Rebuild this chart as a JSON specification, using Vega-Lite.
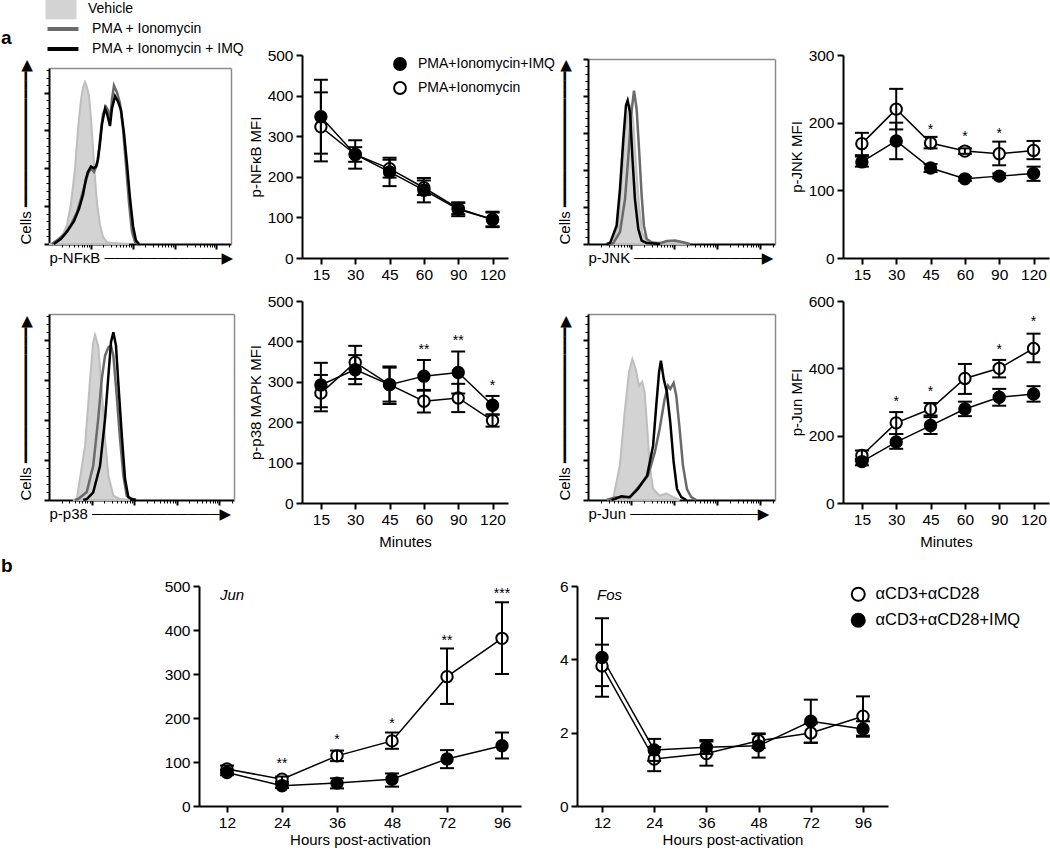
{
  "$schema": "https://vega.github.io/schema/vega-lite/v6.json",
  "padding": {"left": 1, "top": 0, "right": 0, "bottom": 0},
  "background": "white",
  "config": {
    "font": "Liberation Sans",
    "view": {"stroke": null},
    "axis": {"grid": false, "domainColor": "#000", "tickColor": "#000", "labelColor": "#000", "titleColor": "#000", "titleFontWeight": "normal", "labelFont": "Liberation Sans", "titleFont": "Liberation Sans"},
    "title": {"color": "#000"},
    "legend": {"padding": 0, "labelColor": "#000", "labelFont": "Liberation Sans"}
  },
  "datasets": {
    "h1": [
      {"c": "Vehicle", "x": 0, "y": 0}, {"c": "Vehicle", "x": 11, "y": 0.2}, {"c": "Vehicle", "x": 44, "y": 1}, {"c": "Vehicle", "x": 71, "y": 4}, {"c": "Vehicle", "x": 99, "y": 11}, {"c": "Vehicle", "x": 121, "y": 23}, {"c": "Vehicle", "x": 143, "y": 43}, {"c": "Vehicle", "x": 159, "y": 65}, {"c": "Vehicle", "x": 176, "y": 82}, {"c": "Vehicle", "x": 187, "y": 89}, {"c": "Vehicle", "x": 198, "y": 92}, {"c": "Vehicle", "x": 209, "y": 89}, {"c": "Vehicle", "x": 220, "y": 84}, {"c": "Vehicle", "x": 231, "y": 71}, {"c": "Vehicle", "x": 242, "y": 54}, {"c": "Vehicle", "x": 253, "y": 37}, {"c": "Vehicle", "x": 264, "y": 23}, {"c": "Vehicle", "x": 280, "y": 11}, {"c": "Vehicle", "x": 297, "y": 4}, {"c": "Vehicle", "x": 319, "y": 1}, {"c": "Vehicle", "x": 357, "y": 0.5}, {"c": "Vehicle", "x": 440, "y": 0},
      {"c": "PMA + Ionomycin", "x": 16, "y": 0}, {"c": "PMA + Ionomycin", "x": 55, "y": 3}, {"c": "PMA + Ionomycin", "x": 88, "y": 6}, {"c": "PMA + Ionomycin", "x": 121, "y": 11}, {"c": "PMA + Ionomycin", "x": 154, "y": 18}, {"c": "PMA + Ionomycin", "x": 176, "y": 26}, {"c": "PMA + Ionomycin", "x": 198, "y": 34}, {"c": "PMA + Ionomycin", "x": 214, "y": 40}, {"c": "PMA + Ionomycin", "x": 231, "y": 43}, {"c": "PMA + Ionomycin", "x": 247, "y": 41}, {"c": "PMA + Ionomycin", "x": 264, "y": 45}, {"c": "PMA + Ionomycin", "x": 275, "y": 54}, {"c": "PMA + Ionomycin", "x": 286, "y": 65}, {"c": "PMA + Ionomycin", "x": 297, "y": 74}, {"c": "PMA + Ionomycin", "x": 313, "y": 78}, {"c": "PMA + Ionomycin", "x": 324, "y": 76}, {"c": "PMA + Ionomycin", "x": 335, "y": 70}, {"c": "PMA + Ionomycin", "x": 346, "y": 82}, {"c": "PMA + Ionomycin", "x": 357, "y": 90}, {"c": "PMA + Ionomycin", "x": 374, "y": 86}, {"c": "PMA + Ionomycin", "x": 390, "y": 80}, {"c": "PMA + Ionomycin", "x": 407, "y": 65}, {"c": "PMA + Ionomycin", "x": 423, "y": 45}, {"c": "PMA + Ionomycin", "x": 440, "y": 23}, {"c": "PMA + Ionomycin", "x": 456, "y": 7}, {"c": "PMA + Ionomycin", "x": 473, "y": 1}, {"c": "PMA + Ionomycin", "x": 489, "y": 0},
      {"c": "PMA + Ionomycin + IMQ", "x": 27, "y": 0}, {"c": "PMA + Ionomycin + IMQ", "x": 66, "y": 3}, {"c": "PMA + Ionomycin + IMQ", "x": 99, "y": 7}, {"c": "PMA + Ionomycin + IMQ", "x": 137, "y": 13}, {"c": "PMA + Ionomycin + IMQ", "x": 165, "y": 20}, {"c": "PMA + Ionomycin + IMQ", "x": 187, "y": 28}, {"c": "PMA + Ionomycin + IMQ", "x": 203, "y": 37}, {"c": "PMA + Ionomycin + IMQ", "x": 214, "y": 41}, {"c": "PMA + Ionomycin + IMQ", "x": 231, "y": 44}, {"c": "PMA + Ionomycin + IMQ", "x": 247, "y": 43}, {"c": "PMA + Ionomycin + IMQ", "x": 258, "y": 44}, {"c": "PMA + Ionomycin + IMQ", "x": 269, "y": 48}, {"c": "PMA + Ionomycin + IMQ", "x": 280, "y": 57}, {"c": "PMA + Ionomycin + IMQ", "x": 291, "y": 68}, {"c": "PMA + Ionomycin + IMQ", "x": 308, "y": 77}, {"c": "PMA + Ionomycin + IMQ", "x": 319, "y": 74}, {"c": "PMA + Ionomycin + IMQ", "x": 335, "y": 67}, {"c": "PMA + Ionomycin + IMQ", "x": 346, "y": 77}, {"c": "PMA + Ionomycin + IMQ", "x": 363, "y": 84}, {"c": "PMA + Ionomycin + IMQ", "x": 379, "y": 81}, {"c": "PMA + Ionomycin + IMQ", "x": 396, "y": 76}, {"c": "PMA + Ionomycin + IMQ", "x": 412, "y": 63}, {"c": "PMA + Ionomycin + IMQ", "x": 429, "y": 45}, {"c": "PMA + Ionomycin + IMQ", "x": 445, "y": 26}, {"c": "PMA + Ionomycin + IMQ", "x": 462, "y": 10}, {"c": "PMA + Ionomycin + IMQ", "x": 478, "y": 2}, {"c": "PMA + Ionomycin + IMQ", "x": 495, "y": 0}
    ],
    "h2": [
      {"c": "Vehicle", "x": 110, "y": 0}, {"c": "Vehicle", "x": 127, "y": 0.5}, {"c": "Vehicle", "x": 162, "y": 9.9}, {"c": "Vehicle", "x": 180, "y": 35.1}, {"c": "Vehicle", "x": 198, "y": 60.4}, {"c": "Vehicle", "x": 216, "y": 72}, {"c": "Vehicle", "x": 230, "y": 74.8}, {"c": "Vehicle", "x": 242, "y": 65.8}, {"c": "Vehicle", "x": 257, "y": 42.3}, {"c": "Vehicle", "x": 273, "y": 20.7}, {"c": "Vehicle", "x": 290, "y": 6.3}, {"c": "Vehicle", "x": 314, "y": 1.2}, {"c": "Vehicle", "x": 358, "y": 0.5}, {"c": "Vehicle", "x": 412, "y": 1.4}, {"c": "Vehicle", "x": 455, "y": 1.6}, {"c": "Vehicle", "x": 492, "y": 0.5}, {"c": "Vehicle", "x": 545, "y": 0},
      {"c": "PMA + Ionomycin", "x": 118, "y": 0}, {"c": "PMA + Ionomycin", "x": 135, "y": 0.5}, {"c": "PMA + Ionomycin", "x": 171, "y": 6.5}, {"c": "PMA + Ionomycin", "x": 198, "y": 24.3}, {"c": "PMA + Ionomycin", "x": 216, "y": 47.7}, {"c": "PMA + Ionomycin", "x": 230, "y": 69.3}, {"c": "PMA + Ionomycin", "x": 246, "y": 82.9}, {"c": "PMA + Ionomycin", "x": 260, "y": 73}, {"c": "PMA + Ionomycin", "x": 273, "y": 51.3}, {"c": "PMA + Ionomycin", "x": 287, "y": 26.1}, {"c": "PMA + Ionomycin", "x": 299, "y": 9.9}, {"c": "PMA + Ionomycin", "x": 314, "y": 2.7}, {"c": "PMA + Ionomycin", "x": 341, "y": 0.9}, {"c": "PMA + Ionomycin", "x": 385, "y": 0.3}, {"c": "PMA + Ionomycin", "x": 422, "y": 1.6}, {"c": "PMA + Ionomycin", "x": 465, "y": 1.9}, {"c": "PMA + Ionomycin", "x": 503, "y": 1.1}, {"c": "PMA + Ionomycin", "x": 545, "y": 0},
      {"c": "PMA + Ionomycin + IMQ", "x": 100, "y": 0}, {"c": "PMA + Ionomycin + IMQ", "x": 118, "y": 0.5}, {"c": "PMA + Ionomycin + IMQ", "x": 153, "y": 9.9}, {"c": "PMA + Ionomycin + IMQ", "x": 171, "y": 29.7}, {"c": "PMA + Ionomycin + IMQ", "x": 189, "y": 56.8}, {"c": "PMA + Ionomycin + IMQ", "x": 203, "y": 74.8}, {"c": "PMA + Ionomycin + IMQ", "x": 212, "y": 77.5}, {"c": "PMA + Ionomycin + IMQ", "x": 225, "y": 71.2}, {"c": "PMA + Ionomycin + IMQ", "x": 237, "y": 47.7}, {"c": "PMA + Ionomycin + IMQ", "x": 251, "y": 24.3}, {"c": "PMA + Ionomycin + IMQ", "x": 269, "y": 8.1}, {"c": "PMA + Ionomycin + IMQ", "x": 287, "y": 1.8}, {"c": "PMA + Ionomycin + IMQ", "x": 314, "y": 0.5}, {"c": "PMA + Ionomycin + IMQ", "x": 385, "y": 0}
    ],
    "h3": [
      {"c": "Vehicle", "x": 130, "y": 0}, {"c": "Vehicle", "x": 150, "y": 0.5}, {"c": "Vehicle", "x": 195, "y": 29.2}, {"c": "Vehicle", "x": 222, "y": 65}, {"c": "Vehicle", "x": 239, "y": 84.8}, {"c": "Vehicle", "x": 249, "y": 88.7}, {"c": "Vehicle", "x": 266, "y": 83}, {"c": "Vehicle", "x": 285, "y": 59.7}, {"c": "Vehicle", "x": 303, "y": 32.8}, {"c": "Vehicle", "x": 321, "y": 13.1}, {"c": "Vehicle", "x": 348, "y": 2.3}, {"c": "Vehicle", "x": 384, "y": 0.5}, {"c": "Vehicle", "x": 438, "y": 0},
      {"c": "PMA + Ionomycin", "x": 140, "y": 0}, {"c": "PMA + Ionomycin", "x": 158, "y": 0.5}, {"c": "PMA + Ionomycin", "x": 204, "y": 4.3}, {"c": "PMA + Ionomycin", "x": 239, "y": 18.4}, {"c": "PMA + Ionomycin", "x": 266, "y": 43.5}, {"c": "PMA + Ionomycin", "x": 285, "y": 65}, {"c": "PMA + Ionomycin", "x": 303, "y": 77.6}, {"c": "PMA + Ionomycin", "x": 321, "y": 82.1}, {"c": "PMA + Ionomycin", "x": 335, "y": 83}, {"c": "PMA + Ionomycin", "x": 348, "y": 77.6}, {"c": "PMA + Ionomycin", "x": 366, "y": 56.1}, {"c": "PMA + Ionomycin", "x": 384, "y": 32.8}, {"c": "PMA + Ionomycin", "x": 402, "y": 13.1}, {"c": "PMA + Ionomycin", "x": 420, "y": 2.3}, {"c": "PMA + Ionomycin", "x": 447, "y": 0.5}, {"c": "PMA + Ionomycin", "x": 470, "y": 0},
      {"c": "PMA + Ionomycin + IMQ", "x": 185, "y": 0}, {"c": "PMA + Ionomycin + IMQ", "x": 204, "y": 0.5}, {"c": "PMA + Ionomycin + IMQ", "x": 239, "y": 4.1}, {"c": "PMA + Ionomycin + IMQ", "x": 276, "y": 18.4}, {"c": "PMA + Ionomycin + IMQ", "x": 303, "y": 43.5}, {"c": "PMA + Ionomycin + IMQ", "x": 321, "y": 66.8}, {"c": "PMA + Ionomycin + IMQ", "x": 335, "y": 84.8}, {"c": "PMA + Ionomycin + IMQ", "x": 348, "y": 90.2}, {"c": "PMA + Ionomycin + IMQ", "x": 362, "y": 83}, {"c": "PMA + Ionomycin + IMQ", "x": 378, "y": 57.9}, {"c": "PMA + Ionomycin + IMQ", "x": 395, "y": 32.8}, {"c": "PMA + Ionomycin + IMQ", "x": 411, "y": 11.3}, {"c": "PMA + Ionomycin + IMQ", "x": 429, "y": 1.5}, {"c": "PMA + Ionomycin + IMQ", "x": 447, "y": 0.5}, {"c": "PMA + Ionomycin + IMQ", "x": 470, "y": 0}
    ],
    "h4": [
      {"c": "Vehicle", "x": 120, "y": 0}, {"c": "Vehicle", "x": 134, "y": 0.5}, {"c": "Vehicle", "x": 170, "y": 18.4}, {"c": "Vehicle", "x": 196, "y": 47.1}, {"c": "Vehicle", "x": 219, "y": 68.7}, {"c": "Vehicle", "x": 237, "y": 75.8}, {"c": "Vehicle", "x": 255, "y": 70.4}, {"c": "Vehicle", "x": 273, "y": 61.4}, {"c": "Vehicle", "x": 290, "y": 63.6}, {"c": "Vehicle", "x": 303, "y": 57.9}, {"c": "Vehicle", "x": 316, "y": 39.9}, {"c": "Vehicle", "x": 330, "y": 18.4}, {"c": "Vehicle", "x": 348, "y": 5.9}, {"c": "Vehicle", "x": 383, "y": 2.3}, {"c": "Vehicle", "x": 419, "y": 3.6}, {"c": "Vehicle", "x": 455, "y": 1.5}, {"c": "Vehicle", "x": 490, "y": 0},
      {"c": "PMA + Ionomycin", "x": 100, "y": 0}, {"c": "PMA + Ionomycin", "x": 116, "y": 0.5}, {"c": "PMA + Ionomycin", "x": 151, "y": 1.5}, {"c": "PMA + Ionomycin", "x": 223, "y": 1.5}, {"c": "PMA + Ionomycin", "x": 276, "y": 7.7}, {"c": "PMA + Ionomycin", "x": 321, "y": 13.1}, {"c": "PMA + Ionomycin", "x": 357, "y": 25.6}, {"c": "PMA + Ionomycin", "x": 383, "y": 38.2}, {"c": "PMA + Ionomycin", "x": 410, "y": 54.3}, {"c": "PMA + Ionomycin", "x": 428, "y": 61.4}, {"c": "PMA + Ionomycin", "x": 440, "y": 59.7}, {"c": "PMA + Ionomycin", "x": 458, "y": 62.9}, {"c": "PMA + Ionomycin", "x": 472, "y": 56.1}, {"c": "PMA + Ionomycin", "x": 490, "y": 38.2}, {"c": "PMA + Ionomycin", "x": 508, "y": 18.4}, {"c": "PMA + Ionomycin", "x": 529, "y": 5.9}, {"c": "PMA + Ionomycin", "x": 552, "y": 1.5}, {"c": "PMA + Ionomycin", "x": 579, "y": 0},
      {"c": "PMA + Ionomycin + IMQ", "x": 125, "y": 0}, {"c": "PMA + Ionomycin + IMQ", "x": 143, "y": 0.5}, {"c": "PMA + Ionomycin + IMQ", "x": 178, "y": 2}, {"c": "PMA + Ionomycin + IMQ", "x": 223, "y": 1.5}, {"c": "PMA + Ionomycin + IMQ", "x": 267, "y": 5.9}, {"c": "PMA + Ionomycin + IMQ", "x": 316, "y": 13.1}, {"c": "PMA + Ionomycin + IMQ", "x": 348, "y": 29.2}, {"c": "PMA + Ionomycin + IMQ", "x": 365, "y": 50.7}, {"c": "PMA + Ionomycin + IMQ", "x": 380, "y": 68.7}, {"c": "PMA + Ionomycin + IMQ", "x": 390, "y": 74.9}, {"c": "PMA + Ionomycin + IMQ", "x": 405, "y": 65}, {"c": "PMA + Ionomycin + IMQ", "x": 422, "y": 57.9}, {"c": "PMA + Ionomycin + IMQ", "x": 440, "y": 41.8}, {"c": "PMA + Ionomycin + IMQ", "x": 458, "y": 20.3}, {"c": "PMA + Ionomycin + IMQ", "x": 476, "y": 5.9}, {"c": "PMA + Ionomycin + IMQ", "x": 499, "y": 1.5}, {"c": "PMA + Ionomycin + IMQ", "x": 526, "y": 0}
    ],
    "nfkb": [
      {"t": "15", "g": "PMA+Ionomycin", "m": 323, "lo": 238, "hi": 408}, {"t": "30", "g": "PMA+Ionomycin", "m": 255, "lo": 237, "hi": 273}, {"t": "45", "g": "PMA+Ionomycin", "m": 220, "lo": 198, "hi": 242}, {"t": "60", "g": "PMA+Ionomycin", "m": 173, "lo": 155, "hi": 191}, {"t": "90", "g": "PMA+Ionomycin", "m": 122, "lo": 108, "hi": 136}, {"t": "120", "g": "PMA+Ionomycin", "m": 95, "lo": 78, "hi": 112},
      {"t": "15", "g": "PMA+Ionomycin+IMQ", "m": 348, "lo": 257, "hi": 439}, {"t": "30", "g": "PMA+Ionomycin+IMQ", "m": 255, "lo": 220, "hi": 290}, {"t": "45", "g": "PMA+Ionomycin+IMQ", "m": 212, "lo": 177, "hi": 247}, {"t": "60", "g": "PMA+Ionomycin+IMQ", "m": 167, "lo": 137, "hi": 197}, {"t": "90", "g": "PMA+Ionomycin+IMQ", "m": 120, "lo": 103, "hi": 137}, {"t": "120", "g": "PMA+Ionomycin+IMQ", "m": 95, "lo": 76, "hi": 114}
    ],
    "jnk": [
      {"t": "15", "g": "PMA+Ionomycin", "m": 169, "lo": 152, "hi": 185}, {"t": "30", "g": "PMA+Ionomycin", "m": 220, "lo": 190, "hi": 250}, {"t": "45", "g": "PMA+Ionomycin", "m": 170, "lo": 162, "hi": 179}, {"t": "60", "g": "PMA+Ionomycin", "m": 158, "lo": 154, "hi": 162}, {"t": "90", "g": "PMA+Ionomycin", "m": 154, "lo": 137, "hi": 172}, {"t": "120", "g": "PMA+Ionomycin", "m": 159, "lo": 146, "hi": 173},
      {"t": "15", "g": "PMA+Ionomycin+IMQ", "m": 142, "lo": 135, "hi": 150}, {"t": "30", "g": "PMA+Ionomycin+IMQ", "m": 173, "lo": 146, "hi": 200}, {"t": "45", "g": "PMA+Ionomycin+IMQ", "m": 133, "lo": 127, "hi": 139}, {"t": "60", "g": "PMA+Ionomycin+IMQ", "m": 117, "lo": 114, "hi": 120}, {"t": "90", "g": "PMA+Ionomycin+IMQ", "m": 121, "lo": 118, "hi": 125}, {"t": "120", "g": "PMA+Ionomycin+IMQ", "m": 125, "lo": 114, "hi": 135}
    ],
    "p38": [
      {"t": "15", "g": "PMA+Ionomycin", "m": 272, "lo": 227, "hi": 317}, {"t": "30", "g": "PMA+Ionomycin", "m": 348, "lo": 307, "hi": 389}, {"t": "45", "g": "PMA+Ionomycin", "m": 293, "lo": 245, "hi": 338}, {"t": "60", "g": "PMA+Ionomycin", "m": 252, "lo": 224, "hi": 280}, {"t": "90", "g": "PMA+Ionomycin", "m": 260, "lo": 225, "hi": 295}, {"t": "120", "g": "PMA+Ionomycin", "m": 204, "lo": 189, "hi": 219},
      {"t": "15", "g": "PMA+Ionomycin+IMQ", "m": 292, "lo": 237, "hi": 347}, {"t": "30", "g": "PMA+Ionomycin+IMQ", "m": 330, "lo": 294, "hi": 366}, {"t": "45", "g": "PMA+Ionomycin+IMQ", "m": 293, "lo": 251, "hi": 335}, {"t": "60", "g": "PMA+Ionomycin+IMQ", "m": 314, "lo": 278, "hi": 354}, {"t": "90", "g": "PMA+Ionomycin+IMQ", "m": 323, "lo": 271, "hi": 375}, {"t": "120", "g": "PMA+Ionomycin+IMQ", "m": 242, "lo": 219, "hi": 265}
    ],
    "pjun": [
      {"t": "15", "g": "PMA+Ionomycin", "m": 141, "lo": 126, "hi": 156}, {"t": "30", "g": "PMA+Ionomycin", "m": 238, "lo": 205, "hi": 270}, {"t": "45", "g": "PMA+Ionomycin", "m": 279, "lo": 260, "hi": 297}, {"t": "60", "g": "PMA+Ionomycin", "m": 370, "lo": 324, "hi": 413}, {"t": "90", "g": "PMA+Ionomycin", "m": 400, "lo": 373, "hi": 425}, {"t": "120", "g": "PMA+Ionomycin", "m": 459, "lo": 418, "hi": 503},
      {"t": "15", "g": "PMA+Ionomycin+IMQ", "m": 123, "lo": 112, "hi": 131}, {"t": "30", "g": "PMA+Ionomycin+IMQ", "m": 181, "lo": 161, "hi": 205}, {"t": "45", "g": "PMA+Ionomycin+IMQ", "m": 230, "lo": 205, "hi": 255}, {"t": "60", "g": "PMA+Ionomycin+IMQ", "m": 279, "lo": 258, "hi": 301}, {"t": "90", "g": "PMA+Ionomycin+IMQ", "m": 314, "lo": 289, "hi": 339}, {"t": "120", "g": "PMA+Ionomycin+IMQ", "m": 324, "lo": 301, "hi": 347}
    ],
    "jun": [
      {"t": "12", "g": "αCD3+αCD28", "m": 84, "lo": 76, "hi": 92}, {"t": "24", "g": "αCD3+αCD28", "m": 61, "lo": 55, "hi": 67}, {"t": "36", "g": "αCD3+αCD28", "m": 114, "lo": 102, "hi": 126}, {"t": "48", "g": "αCD3+αCD28", "m": 148, "lo": 130, "hi": 167}, {"t": "72", "g": "αCD3+αCD28", "m": 294, "lo": 232, "hi": 358}, {"t": "96", "g": "αCD3+αCD28", "m": 381, "lo": 300, "hi": 463},
      {"t": "12", "g": "αCD3+αCD28+IMQ", "m": 76, "lo": 70, "hi": 82}, {"t": "24", "g": "αCD3+αCD28+IMQ", "m": 46, "lo": 41, "hi": 51}, {"t": "36", "g": "αCD3+αCD28+IMQ", "m": 52, "lo": 40, "hi": 63}, {"t": "48", "g": "αCD3+αCD28+IMQ", "m": 61, "lo": 44, "hi": 74}, {"t": "72", "g": "αCD3+αCD28+IMQ", "m": 107, "lo": 86, "hi": 127}, {"t": "96", "g": "αCD3+αCD28+IMQ", "m": 137, "lo": 108, "hi": 167}
    ],
    "fos": [
      {"t": "12", "g": "αCD3+αCD28", "m": 3.82, "lo": 3.27, "hi": 4.4}, {"t": "24", "g": "αCD3+αCD28", "m": 1.28, "lo": 0.95, "hi": 1.61}, {"t": "36", "g": "αCD3+αCD28", "m": 1.43, "lo": 1.1, "hi": 1.76}, {"t": "48", "g": "αCD3+αCD28", "m": 1.78, "lo": 1.58, "hi": 1.98}, {"t": "72", "g": "αCD3+αCD28", "m": 1.99, "lo": 1.73, "hi": 2.25}, {"t": "96", "g": "αCD3+αCD28", "m": 2.45, "lo": 1.92, "hi": 2.99},
      {"t": "12", "g": "αCD3+αCD28+IMQ", "m": 4.05, "lo": 2.98, "hi": 5.12}, {"t": "24", "g": "αCD3+αCD28+IMQ", "m": 1.53, "lo": 1.23, "hi": 1.83}, {"t": "36", "g": "αCD3+αCD28+IMQ", "m": 1.6, "lo": 1.42, "hi": 1.8}, {"t": "48", "g": "αCD3+αCD28+IMQ", "m": 1.64, "lo": 1.32, "hi": 1.96}, {"t": "72", "g": "αCD3+αCD28+IMQ", "m": 2.31, "lo": 1.72, "hi": 2.9}, {"t": "96", "g": "αCD3+αCD28+IMQ", "m": 2.1, "lo": 1.89, "hi": 2.31}
    ],
    "s_jnk": [{"t": "45", "s": "*", "y": 195}, {"t": "60", "s": "*", "y": 185}, {"t": "90", "s": "*", "y": 189}],
    "s_p38": [{"t": "60", "s": "**", "y": 389}, {"t": "90", "s": "**", "y": 412}, {"t": "120", "s": "*", "y": 300}],
    "s_pjun": [{"t": "30", "s": "*", "y": 311}, {"t": "45", "s": "*", "y": 341}, {"t": "90", "s": "*", "y": 467}, {"t": "120", "s": "*", "y": 549}],
    "s_jun": [{"t": "24", "s": "**", "y": 105}, {"t": "36", "s": "*", "y": 158}, {"t": "48", "s": "*", "y": 195}, {"t": "72", "s": "**", "y": 385}, {"t": "96", "s": "***", "y": 491}]
  },
  "resolve": {"scale": {"color": "independent", "fill": "independent", "stroke": "independent"}},
  "columns": 1,
  "align": "none",
  "spacing": 7,
  "concat": [
    {
      "title": {"text": "a", "anchor": "start", "frame": "group", "fontSize": 19, "fontWeight": "bold", "dx": -48, "dy": 57, "offset": 0, "baseline": "middle"},
      "columns": 4,
      "bounds": "flush",
      "spacing": {"row": 43, "column": 68},
      "resolve": {"scale": {"color": "independent", "fill": "independent", "stroke": "independent"}},
      "concat": [
        {
          "width": 182, "height": 203,
          "data": {"name": "h1"},
          "resolve": {"axis": {"x": "independent", "y": "independent"}},
          "layer": [
            {"transform": [{"filter": "datum.c === 'Vehicle'"}], "mark": {"type": "area", "stroke": "#bebebe", "strokeWidth": 2, "opacity": 1},
              "encoding": {
                "x": {"field": "x", "type": "quantitative", "scale": {"domain": [0, 1000], "nice": false, "zero": false},
                  "axis": {"orient": "bottom", "offset": -14, "title": "p-NFκB ───────────▶", "titleAnchor": "start", "titleFont": "Liberation Sans, DejaVu Sans", "titleFontSize": 15, "titlePadding": 0, "labels": false, "domainWidth": 2,
                    "values": [69,110,138,161,179,194,208,219,230,299,340,368,391,409,424,438,449,460,529,570,598,621,639,654,668,679,690,759,800,828,851,869,884,898,909,920,989],
                    "tickSize": {"condition": {"test": "indexof([230,460,690,920], datum.value) >= 0", "value": 5}, "value": 3},
                    "tickWidth": {"condition": {"test": "indexof([230,460,690,920], datum.value) >= 0", "value": 2}, "value": 1}}},
                "y": {"field": "y", "type": "quantitative", "scale": {"domain": [0, 100], "nice": false, "range": [189, 13]},
                  "axis": {"orient": "left", "title": "Cells ━━━━━━━━━━━━━━━▶", "titleAnchor": "start", "titleFont": "Liberation Sans, DejaVu Sans", "titleFontSize": 15, "titlePadding": 10, "labels": false, "domainWidth": 2,
                    "values": [0,4.3,8.6,12.9,17.2,21.5,25.8,30.1,34.4,38.7,43,47.3,51.6,55.9,60.2,64.5,68.8,73.1,77.4,81.7,86,90.3,94.6,98.9],
                    "tickSize": {"condition": {"test": "indexof([0,21.5,43,64.5,86], datum.value) >= 0", "value": 5}, "value": 3},
                    "tickWidth": {"condition": {"test": "indexof([0,21.5,43,64.5,86], datum.value) >= 0", "value": 2}, "value": 1}}},
                "fill": {"field": "c", "type": "nominal", "scale": {"domain": ["Vehicle"], "range": ["#d3d3d3"]},
                  "legend": {"orient": "none", "legendX": 3, "legendY": -55, "title": null, "padding": 0, "symbolType": "M-1.72,-1.15H1.72V1.15H-1.72Z", "symbolSize": 324, "symbolStrokeWidth": 0, "labelFontSize": 14, "labelOffset": 18, "labelLimit": 400}}}},
            {"transform": [{"filter": "datum.c !== 'Vehicle'"}], "mark": {"type": "line", "strokeWidth": 2.5},
              "encoding": {
                "x": {"field": "x", "type": "quantitative", "axis": {"orient": "top", "offset": -13, "domainColor": "#8c8c8c", "domainWidth": 1.5, "ticks": false, "labels": false, "title": null}},
                "y": {"field": "y", "type": "quantitative", "axis": {"orient": "right", "domainColor": "#8c8c8c", "domainWidth": 1.5, "ticks": false, "labels": false, "title": null}},
                "stroke": {"field": "c", "type": "nominal", "scale": {"domain": ["PMA + Ionomycin", "PMA + Ionomycin + IMQ"], "range": ["#6a6a6a", "#000000"]},
                  "legend": {"orient": "none", "legendX": 3, "legendY": -37, "title": null, "padding": 0, "symbolType": "M-1.72,0H1.72", "symbolSize": 324, "symbolStrokeWidth": 4, "labelFontSize": 14, "labelOffset": 18, "labelLimit": 400, "rowPadding": 1}}}}
          ]
        },
        {
          "width": 218, "height": 203,
          "data": {"name": "nfkb"},
          "encoding": {
            "x": {"field": "t", "type": "ordinal", "sort": ["15","30","45","60","90","120"], "scale": {"type": "point", "range": [0, 206], "padding": 0.5, "align": 0.55},
              "axis": {"title": null, "labelAngle": 0, "labelFontSize": 15.5, "labelPadding": 3, "tickSize": 6, "tickWidth": 2, "domainWidth": 2}}
          },
          "layer": [
            {"mark": {"type": "line", "color": "#000", "strokeWidth": 1.5},
              "encoding": {"y": {"field": "m", "type": "quantitative", "title": "p-NFκB MFI", "scale": {"domain": [0, 500], "nice": false},
                "axis": {"values": [0,100,200,300,400,500], "labelFontSize": 15.5, "labelPadding": 3, "tickSize": 6, "tickWidth": 2, "domainWidth": 2, "titleFontSize": 15, "titlePadding": 4}}, "detail": {"field": "g"}}},
            {"mark": {"type": "point", "shape": "circle", "size": 130, "stroke": "#000", "strokeWidth": 2, "opacity": 1},
              "encoding": {"y": {"field": "m", "type": "quantitative", "title": "p-NFκB MFI"},
                "fill": {"field": "g", "type": "nominal", "scale": {"domain": ["PMA+Ionomycin+IMQ", "PMA+Ionomycin"], "range": ["#000000", "#ffffff"]},
                  "legend": {"orient": "none", "legendX": 91, "legendY": 2, "title": null, "padding": 0, "symbolType": "circle", "symbolSize": 140, "symbolStrokeColor": "#000", "symbolStrokeWidth": 2, "labelFontSize": 14, "labelOffset": 11, "rowPadding": 4, "labelLimit": 400}}}},
            {"mark": {"type": "rule", "color": "#000", "strokeWidth": 2}, "encoding": {"y": {"field": "lo", "type": "quantitative", "title": "p-NFκB MFI"}, "y2": {"field": "hi"}}},
            {"mark": {"type": "tick", "color": "#000", "size": 14, "thickness": 2, "opacity": 1}, "encoding": {"y": {"field": "lo", "type": "quantitative", "title": "p-NFκB MFI"}}},
            {"mark": {"type": "tick", "color": "#000", "size": 14, "thickness": 2, "opacity": 1}, "encoding": {"y": {"field": "hi", "type": "quantitative", "title": "p-NFκB MFI"}}}
          ]
        },
        {
          "width": 187, "height": 203,
          "data": {"name": "h2"},
          "resolve": {"axis": {"x": "independent", "y": "independent"}},
          "layer": [
            {"transform": [{"filter": "datum.c === 'Vehicle'"}], "mark": {"type": "area", "color": "#d3d3d3", "stroke": "#bebebe", "strokeWidth": 2, "opacity": 1},
              "encoding": {
                "x": {"field": "x", "type": "quantitative", "scale": {"domain": [0, 1000], "nice": false, "zero": false},
                  "axis": {"orient": "bottom", "offset": -14, "title": "p-JNK ────────────▶", "titleAnchor": "start", "titleFont": "Liberation Sans, DejaVu Sans", "titleFontSize": 15, "titlePadding": 0, "labels": false, "domainWidth": 2,
                    "values": [69,110,138,161,179,194,208,219,230,299,340,368,391,409,424,438,449,460,529,570,598,621,639,654,668,679,690,759,800,828,851,869,884,898,909,920,989],
                    "tickSize": {"condition": {"test": "indexof([230,460,690,920], datum.value) >= 0", "value": 5}, "value": 3},
                    "tickWidth": {"condition": {"test": "indexof([230,460,690,920], datum.value) >= 0", "value": 2}, "value": 1}}},
                "y": {"field": "y", "type": "quantitative", "scale": {"domain": [0, 100], "nice": false, "range": [189, 4]},
                  "axis": {"orient": "left", "title": "Cells ━━━━━━━━━━━━━━━▶", "titleAnchor": "start", "titleFont": "Liberation Sans, DejaVu Sans", "titleFontSize": 15, "titlePadding": 10, "labels": false, "domainWidth": 2,
                    "values": [0,4,8,12,16,20,24,28,32,36,40,44,48,52,56,60,64,68,72,76,80,84,88,92,96,100],
                    "tickSize": {"condition": {"test": "indexof([0,20,40,60,80,100], datum.value) >= 0", "value": 5}, "value": 3},
                    "tickWidth": {"condition": {"test": "indexof([0,20,40,60,80,100], datum.value) >= 0", "value": 2}, "value": 1}}}}},
            {"transform": [{"filter": "datum.c !== 'Vehicle'"}], "mark": {"type": "line", "strokeWidth": 2.5},
              "encoding": {
                "x": {"field": "x", "type": "quantitative", "axis": {"orient": "top", "offset": -4, "domainColor": "#8c8c8c", "domainWidth": 1.5, "ticks": false, "labels": false, "title": null}},
                "y": {"field": "y", "type": "quantitative", "axis": {"orient": "right", "domainColor": "#8c8c8c", "domainWidth": 1.5, "ticks": false, "labels": false, "title": null}},
                "stroke": {"field": "c", "type": "nominal", "scale": {"domain": ["PMA + Ionomycin", "PMA + Ionomycin + IMQ"], "range": ["#6a6a6a", "#000000"]}, "legend": null}}}
          ]
        },
        {
          "width": 207, "height": 203,
          "data": {"name": "jnk"},
          "encoding": {
            "x": {"field": "t", "type": "ordinal", "sort": ["15","30","45","60","90","120"], "scale": {"type": "point", "range": [0, 206], "padding": 0.5, "align": 0.55},
              "axis": {"title": null, "labelAngle": 0, "labelFontSize": 15.5, "labelPadding": 3, "tickSize": 6, "tickWidth": 2, "domainWidth": 2}}
          },
          "layer": [
            {"mark": {"type": "line", "color": "#000", "strokeWidth": 1.5},
              "encoding": {"y": {"field": "m", "type": "quantitative", "title": "p-JNK MFI", "scale": {"domain": [0, 300], "nice": false},
                "axis": {"values": [0,100,200,300], "labelFontSize": 15.5, "labelPadding": 3, "tickSize": 6, "tickWidth": 2, "domainWidth": 2, "titleFontSize": 15, "titlePadding": 4}}, "detail": {"field": "g"}}},
            {"mark": {"type": "point", "shape": "circle", "size": 130, "stroke": "#000", "strokeWidth": 2, "opacity": 1},
              "encoding": {"y": {"field": "m", "type": "quantitative", "title": "p-JNK MFI"},
                "fill": {"field": "g", "type": "nominal", "scale": {"domain": ["PMA+Ionomycin+IMQ", "PMA+Ionomycin"], "range": ["#000000", "#ffffff"]}, "legend": null}}},
            {"mark": {"type": "rule", "color": "#000", "strokeWidth": 2}, "encoding": {"y": {"field": "lo", "type": "quantitative", "title": "p-JNK MFI"}, "y2": {"field": "hi"}}},
            {"mark": {"type": "tick", "color": "#000", "size": 14, "thickness": 2, "opacity": 1}, "encoding": {"y": {"field": "lo", "type": "quantitative", "title": "p-JNK MFI"}}},
            {"mark": {"type": "tick", "color": "#000", "size": 14, "thickness": 2, "opacity": 1}, "encoding": {"y": {"field": "hi", "type": "quantitative", "title": "p-JNK MFI"}}},
            {"data": {"name": "s_jnk"}, "mark": {"type": "text", "fontSize": 14, "dy": 4, "color": "#000"}, "encoding": {"y": {"field": "y", "type": "quantitative", "title": "p-JNK MFI"}, "text": {"field": "s"}}}
          ]
        },
        {
          "width": 185, "height": 202,
          "data": {"name": "h3"},
          "resolve": {"axis": {"x": "independent", "y": "independent"}},
          "layer": [
            {"transform": [{"filter": "datum.c === 'Vehicle'"}], "mark": {"type": "area", "color": "#d3d3d3", "stroke": "#bebebe", "strokeWidth": 2, "opacity": 1},
              "encoding": {
                "x": {"field": "x", "type": "quantitative", "scale": {"domain": [0, 1000], "nice": false, "zero": false},
                  "axis": {"orient": "bottom", "offset": -3, "title": "p-p38 ────────────▶", "titleAnchor": "start", "titleFont": "Liberation Sans, DejaVu Sans", "titleFontSize": 15, "titlePadding": 0, "labels": false, "domainWidth": 2,
                    "values": [69,110,138,161,179,194,208,219,230,299,340,368,391,409,424,438,449,460,529,570,598,621,639,654,668,679,690,759,800,828,851,869,884,898,909,920,989],
                    "tickSize": {"condition": {"test": "indexof([230,460,690,920], datum.value) >= 0", "value": 5}, "value": 3},
                    "tickWidth": {"condition": {"test": "indexof([230,460,690,920], datum.value) >= 0", "value": 2}, "value": 1}}},
                "y": {"field": "y", "type": "quantitative", "scale": {"domain": [0, 100], "nice": false, "range": [199, 13]},
                  "axis": {"orient": "left", "title": "Cells ━━━━━━━━━━━━━━━▶", "titleAnchor": "start", "titleFont": "Liberation Sans, DejaVu Sans", "titleFontSize": 15, "titlePadding": 10, "labels": false, "domainWidth": 2,
                    "values": [0,4.3,8.6,12.9,17.2,21.5,25.8,30.1,34.4,38.7,43,47.3,51.6,55.9,60.2,64.5,68.8,73.1,77.4,81.7,86,90.3,94.6,98.9],
                    "tickSize": {"condition": {"test": "indexof([0,21.5,43,64.5,86], datum.value) >= 0", "value": 5}, "value": 3},
                    "tickWidth": {"condition": {"test": "indexof([0,21.5,43,64.5,86], datum.value) >= 0", "value": 2}, "value": 1}}}}},
            {"transform": [{"filter": "datum.c !== 'Vehicle'"}], "mark": {"type": "line", "strokeWidth": 2.5},
              "encoding": {
                "x": {"field": "x", "type": "quantitative", "axis": {"orient": "top", "offset": -13, "domainColor": "#8c8c8c", "domainWidth": 1.5, "ticks": false, "labels": false, "title": null}},
                "y": {"field": "y", "type": "quantitative", "axis": {"orient": "right", "domainColor": "#8c8c8c", "domainWidth": 1.5, "ticks": false, "labels": false, "title": null}},
                "stroke": {"field": "c", "type": "nominal", "scale": {"domain": ["PMA + Ionomycin", "PMA + Ionomycin + IMQ"], "range": ["#6a6a6a", "#000000"]}, "legend": null}}}
          ]
        },
        {
          "width": 218, "height": 202,
          "data": {"name": "p38"},
          "encoding": {
            "x": {"field": "t", "type": "ordinal", "sort": ["15","30","45","60","90","120"], "scale": {"type": "point", "range": [0, 206], "padding": 0.5, "align": 0.55},
              "axis": {"title": "Minutes", "titleFontSize": 15, "titlePadding": 7, "labelAngle": 0, "labelFontSize": 15.5, "labelPadding": 3, "tickSize": 6, "tickWidth": 2, "domainWidth": 2}}
          },
          "layer": [
            {"mark": {"type": "line", "color": "#000", "strokeWidth": 1.5},
              "encoding": {"y": {"field": "m", "type": "quantitative", "title": "p-p38 MAPK MFI", "scale": {"domain": [0, 500], "nice": false},
                "axis": {"values": [0,100,200,300,400,500], "labelFontSize": 15.5, "labelPadding": 3, "tickSize": 6, "tickWidth": 2, "domainWidth": 2, "titleFontSize": 15, "titlePadding": 4}}, "detail": {"field": "g"}}},
            {"mark": {"type": "point", "shape": "circle", "size": 130, "stroke": "#000", "strokeWidth": 2, "opacity": 1},
              "encoding": {"y": {"field": "m", "type": "quantitative", "title": "p-p38 MAPK MFI"},
                "fill": {"field": "g", "type": "nominal", "scale": {"domain": ["PMA+Ionomycin+IMQ", "PMA+Ionomycin"], "range": ["#000000", "#ffffff"]}, "legend": null}}},
            {"mark": {"type": "rule", "color": "#000", "strokeWidth": 2}, "encoding": {"y": {"field": "lo", "type": "quantitative", "title": "p-p38 MAPK MFI"}, "y2": {"field": "hi"}}},
            {"mark": {"type": "tick", "color": "#000", "size": 14, "thickness": 2, "opacity": 1}, "encoding": {"y": {"field": "lo", "type": "quantitative", "title": "p-p38 MAPK MFI"}}},
            {"mark": {"type": "tick", "color": "#000", "size": 14, "thickness": 2, "opacity": 1}, "encoding": {"y": {"field": "hi", "type": "quantitative", "title": "p-p38 MAPK MFI"}}},
            {"data": {"name": "s_p38"}, "mark": {"type": "text", "fontSize": 14, "dy": 4, "color": "#000"}, "encoding": {"y": {"field": "y", "type": "quantitative", "title": "p-p38 MAPK MFI"}, "text": {"field": "s"}}}
          ]
        },
        {
          "width": 187, "height": 202,
          "data": {"name": "h4"},
          "resolve": {"axis": {"x": "independent", "y": "independent"}},
          "layer": [
            {"transform": [{"filter": "datum.c === 'Vehicle'"}], "mark": {"type": "area", "color": "#d3d3d3", "stroke": "#bebebe", "strokeWidth": 2, "opacity": 1},
              "encoding": {
                "x": {"field": "x", "type": "quantitative", "scale": {"domain": [0, 1000], "nice": false, "zero": false},
                  "axis": {"orient": "bottom", "offset": -3, "title": "p-Jun ────────────▶", "titleAnchor": "start", "titleFont": "Liberation Sans, DejaVu Sans", "titleFontSize": 15, "titlePadding": 0, "labels": false, "domainWidth": 2,
                    "values": [69,110,138,161,179,194,208,219,230,299,340,368,391,409,424,438,449,460,529,570,598,621,639,654,668,679,690,759,800,828,851,869,884,898,909,920,989],
                    "tickSize": {"condition": {"test": "indexof([230,460,690,920], datum.value) >= 0", "value": 5}, "value": 3},
                    "tickWidth": {"condition": {"test": "indexof([230,460,690,920], datum.value) >= 0", "value": 2}, "value": 1}}},
                "y": {"field": "y", "type": "quantitative", "scale": {"domain": [0, 100], "nice": false, "range": [199, 13]},
                  "axis": {"orient": "left", "title": "Cells ━━━━━━━━━━━━━━━▶", "titleAnchor": "start", "titleFont": "Liberation Sans, DejaVu Sans", "titleFontSize": 15, "titlePadding": 10, "labels": false, "domainWidth": 2,
                    "values": [0,4.3,8.6,12.9,17.2,21.5,25.8,30.1,34.4,38.7,43,47.3,51.6,55.9,60.2,64.5,68.8,73.1,77.4,81.7,86,90.3,94.6,98.9],
                    "tickSize": {"condition": {"test": "indexof([0,21.5,43,64.5,86], datum.value) >= 0", "value": 5}, "value": 3},
                    "tickWidth": {"condition": {"test": "indexof([0,21.5,43,64.5,86], datum.value) >= 0", "value": 2}, "value": 1}}}}},
            {"transform": [{"filter": "datum.c !== 'Vehicle'"}], "mark": {"type": "line", "strokeWidth": 2.5},
              "encoding": {
                "x": {"field": "x", "type": "quantitative", "axis": {"orient": "top", "offset": -13, "domainColor": "#8c8c8c", "domainWidth": 1.5, "ticks": false, "labels": false, "title": null}},
                "y": {"field": "y", "type": "quantitative", "axis": {"orient": "right", "domainColor": "#8c8c8c", "domainWidth": 1.5, "ticks": false, "labels": false, "title": null}},
                "stroke": {"field": "c", "type": "nominal", "scale": {"domain": ["PMA + Ionomycin", "PMA + Ionomycin + IMQ"], "range": ["#6a6a6a", "#000000"]}, "legend": null}}}
          ]
        },
        {
          "width": 207, "height": 202,
          "data": {"name": "pjun"},
          "encoding": {
            "x": {"field": "t", "type": "ordinal", "sort": ["15","30","45","60","90","120"], "scale": {"type": "point", "range": [0, 206], "padding": 0.5, "align": 0.55},
              "axis": {"title": "Minutes", "titleFontSize": 15, "titlePadding": 7, "labelAngle": 0, "labelFontSize": 15.5, "labelPadding": 3, "tickSize": 6, "tickWidth": 2, "domainWidth": 2}}
          },
          "layer": [
            {"mark": {"type": "line", "color": "#000", "strokeWidth": 1.5},
              "encoding": {"y": {"field": "m", "type": "quantitative", "title": "p-Jun MFI", "scale": {"domain": [0, 600], "nice": false},
                "axis": {"values": [0,200,400,600], "labelFontSize": 15.5, "labelPadding": 3, "tickSize": 6, "tickWidth": 2, "domainWidth": 2, "titleFontSize": 15, "titlePadding": 4}}, "detail": {"field": "g"}}},
            {"mark": {"type": "point", "shape": "circle", "size": 130, "stroke": "#000", "strokeWidth": 2, "opacity": 1},
              "encoding": {"y": {"field": "m", "type": "quantitative", "title": "p-Jun MFI"},
                "fill": {"field": "g", "type": "nominal", "scale": {"domain": ["PMA+Ionomycin+IMQ", "PMA+Ionomycin"], "range": ["#000000", "#ffffff"]}, "legend": null}}},
            {"mark": {"type": "rule", "color": "#000", "strokeWidth": 2}, "encoding": {"y": {"field": "lo", "type": "quantitative", "title": "p-Jun MFI"}, "y2": {"field": "hi"}}},
            {"mark": {"type": "tick", "color": "#000", "size": 14, "thickness": 2, "opacity": 1}, "encoding": {"y": {"field": "lo", "type": "quantitative", "title": "p-Jun MFI"}}},
            {"mark": {"type": "tick", "color": "#000", "size": 14, "thickness": 2, "opacity": 1}, "encoding": {"y": {"field": "hi", "type": "quantitative", "title": "p-Jun MFI"}}},
            {"data": {"name": "s_pjun"}, "mark": {"type": "text", "fontSize": 14, "dy": 4, "color": "#000"}, "encoding": {"y": {"field": "y", "type": "quantitative", "title": "p-Jun MFI"}, "text": {"field": "s"}}}
          ]
        }
      ]
    },
    {
      "title": {"text": "b", "anchor": "start", "frame": "group", "fontSize": 19, "fontWeight": "bold", "dx": -48, "dy": 6, "offset": 0, "baseline": "middle"},
      "bounds": "flush",
      "spacing": 56,
      "resolve": {"scale": {"color": "independent", "fill": "independent", "stroke": "independent"}},
      "hconcat": [
        {
          "width": 94, "height": 10,
          "data": {"values": []},
          "mark": {"type": "point", "opacity": 0},
          "encoding": {}
        },
        {
          "width": 322, "height": 220,
          "title": {"text": "Jun", "anchor": "start", "frame": "group", "fontStyle": "italic", "fontWeight": "normal", "fontSize": 15, "dx": 21, "dy": 31, "offset": 0, "baseline": "middle"},
          "data": {"name": "jun"},
          "encoding": {
            "x": {"field": "t", "type": "ordinal", "sort": ["12","24","36","48","72","96"], "scale": {"type": "point", "padding": 0.427, "align": 0.596},
              "axis": {"title": "Hours post-activation", "titleFontSize": 15, "titlePadding": 2, "labelAngle": 0, "labelFontSize": 15.5, "labelPadding": 3, "tickSize": 6, "tickWidth": 2, "domainWidth": 2}}
          },
          "layer": [
            {"mark": {"type": "line", "color": "#000", "strokeWidth": 1.5},
              "encoding": {"y": {"field": "m", "type": "quantitative", "title": null, "scale": {"domain": [0, 500], "nice": false},
                "axis": {"values": [0,100,200,300,400,500], "labelFontSize": 15.5, "labelPadding": 3, "tickSize": 6, "tickWidth": 2, "domainWidth": 2}}, "detail": {"field": "g"}}},
            {"mark": {"type": "point", "shape": "circle", "size": 130, "stroke": "#000", "strokeWidth": 2, "opacity": 1},
              "encoding": {"y": {"field": "m", "type": "quantitative", "title": null},
                "fill": {"field": "g", "type": "nominal", "scale": {"domain": ["αCD3+αCD28", "αCD3+αCD28+IMQ"], "range": ["#ffffff", "#000000"]}, "legend": null}}},
            {"mark": {"type": "rule", "color": "#000", "strokeWidth": 2}, "encoding": {"y": {"field": "lo", "type": "quantitative", "title": null}, "y2": {"field": "hi"}}},
            {"mark": {"type": "tick", "color": "#000", "size": 14, "thickness": 2, "opacity": 1}, "encoding": {"y": {"field": "lo", "type": "quantitative", "title": null}}},
            {"mark": {"type": "tick", "color": "#000", "size": 14, "thickness": 2, "opacity": 1}, "encoding": {"y": {"field": "hi", "type": "quantitative", "title": null}}},
            {"data": {"name": "s_jun"}, "mark": {"type": "text", "fontSize": 14, "dy": 4, "color": "#000"}, "encoding": {"y": {"field": "y", "type": "quantitative", "title": null}, "text": {"field": "s"}}}
          ]
        },
        {
          "width": 311, "height": 220,
          "title": {"text": "Fos", "anchor": "start", "frame": "group", "fontStyle": "italic", "fontWeight": "normal", "fontSize": 15, "dx": 20, "dy": 31, "offset": 0, "baseline": "middle"},
          "data": {"name": "fos"},
          "encoding": {
            "x": {"field": "t", "type": "ordinal", "sort": ["12","24","36","48","72","96"], "scale": {"type": "point", "padding": 0.479, "align": 0.5},
              "axis": {"title": "Hours post-activation", "titleFontSize": 15, "titlePadding": 2, "labelAngle": 0, "labelFontSize": 15.5, "labelPadding": 3, "tickSize": 6, "tickWidth": 2, "domainWidth": 2}}
          },
          "layer": [
            {"mark": {"type": "line", "color": "#000", "strokeWidth": 1.5},
              "encoding": {"y": {"field": "m", "type": "quantitative", "title": null, "scale": {"domain": [0, 6], "nice": false},
                "axis": {"values": [0,2,4,6], "labelFontSize": 15.5, "labelPadding": 3, "tickSize": 6, "tickWidth": 2, "domainWidth": 2}}, "detail": {"field": "g"}}},
            {"mark": {"type": "point", "shape": "circle", "size": 130, "stroke": "#000", "strokeWidth": 2, "opacity": 1},
              "encoding": {"y": {"field": "m", "type": "quantitative", "title": null},
                "fill": {"field": "g", "type": "nominal", "scale": {"domain": ["αCD3+αCD28", "αCD3+αCD28+IMQ"], "range": ["#ffffff", "#000000"]},
                  "legend": {"orient": "none", "legendX": 273, "legendY": 0, "title": null, "padding": 0, "symbolType": "circle", "symbolSize": 170, "symbolStrokeColor": "#000", "symbolStrokeWidth": 2, "labelFontSize": 16.5, "labelOffset": 9, "rowPadding": 4, "labelLimit": 400}}}},
            {"mark": {"type": "rule", "color": "#000", "strokeWidth": 2}, "encoding": {"y": {"field": "lo", "type": "quantitative", "title": null}, "y2": {"field": "hi"}}},
            {"mark": {"type": "tick", "color": "#000", "size": 14, "thickness": 2, "opacity": 1}, "encoding": {"y": {"field": "lo", "type": "quantitative", "title": null}}},
            {"mark": {"type": "tick", "color": "#000", "size": 14, "thickness": 2, "opacity": 1}, "encoding": {"y": {"field": "hi", "type": "quantitative", "title": null}}}
          ]
        }
      ]
    }
  ]
}
